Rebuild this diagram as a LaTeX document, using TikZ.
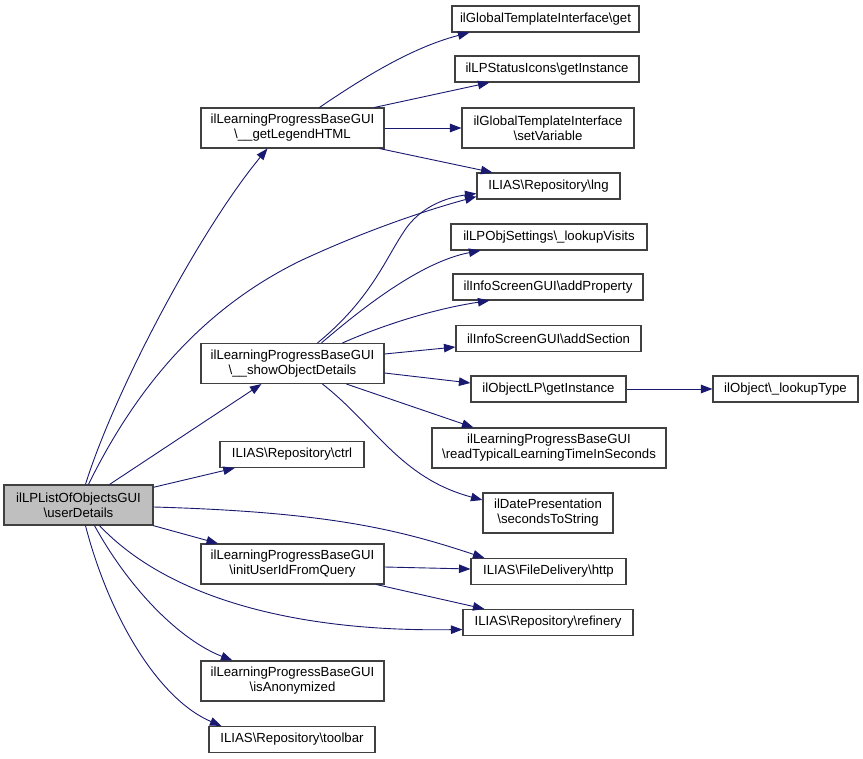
\documentclass[tikz,border=0pt]{standalone}
\usepackage{fontspec}
\setmainfont{Liberation Sans}
\usetikzlibrary{arrows.meta}
\definecolor{edgeblue}{HTML}{191970}
\definecolor{boxline}{HTML}{404040}
\definecolor{mainfill}{HTML}{BFBFBF}
\begin{document}
\begin{tikzpicture}[x=1pt,y=-1pt,
 fn/.style={draw=boxline, fill=white, line width=1.1pt, inner sep=0pt, align=center, font=\fontsize{13.2}{15}\selectfont},
 one/.style={fn, minimum height=26pt},
 two/.style={fn, minimum height=40pt},
 call/.style={draw=edgeblue, line width=0.9pt, -{Triangle[length=11.5pt,width=8.5pt]}}
]
\useasboundingbox (0,0) rectangle (863,759);
% nodes
\node[two, fill=mainfill, minimum width=149pt] (main) at (78.5,505) {ilLPListOfObjectsGUI\\\textbackslash userDetails};
\node[two, minimum width=183pt] (legend) at (292.5,128) {ilLearningProgressBaseGUI\\\textbackslash\_\_getLegendHTML};
\node[two, minimum width=183pt] (show) at (292.5,363.5) {ilLearningProgressBaseGUI\\\textbackslash\_\_showObjectDetails};
\node[one, minimum width=144pt] (ctrl) at (292,454.5) {ILIAS\textbackslash Repository\textbackslash ctrl};
\node[two, minimum width=183pt] (init) at (292.5,564) {ilLearningProgressBaseGUI\\\textbackslash initUserIdFromQuery};
\node[two, minimum width=183pt] (anon) at (292.5,681) {ilLearningProgressBaseGUI\\\textbackslash isAnonymized};
\node[one, minimum width=166pt] (toolbar) at (292,739.5) {ILIAS\textbackslash Repository\textbackslash toolbar};
\node[one, minimum width=187pt] (get) at (545.5,19) {ilGlobalTemplateInterface\textbackslash get};
\node[one, minimum width=184pt] (status) at (547,69) {ilLPStatusIcons\textbackslash getInstance};
\node[two, minimum width=172pt] (setvar) at (548,128) {ilGlobalTemplateInterface\\\textbackslash setVariable};
\node[one, minimum width=143pt] (lng) at (548.5,186) {ILIAS\textbackslash Repository\textbackslash lng};
\node[one, minimum width=196pt] (visits) at (549,237) {ilLPObjSettings\textbackslash\_lookupVisits};
\node[one, minimum width=190pt] (prop) at (548,287) {ilInfoScreenGUI\textbackslash addProperty};
\node[one, minimum width=185pt] (sect) at (548.5,338.5) {ilInfoScreenGUI\textbackslash addSection};
\node[one, minimum width=155pt] (olp) at (548.5,389) {ilObjectLP\textbackslash getInstance};
\node[two, minimum width=234pt] (typical) at (549,448) {ilLearningProgressBaseGUI\\\textbackslash readTypicalLearningTimeInSeconds};
\node[two, minimum width=130pt] (secs) at (548,513) {ilDatePresentation\\\textbackslash secondsToString};
\node[one, minimum width=155pt] (http) at (548.5,571.5) {ILIAS\textbackslash FileDelivery\textbackslash http};
\node[one, minimum width=170pt] (refinery) at (548,622.5) {ILIAS\textbackslash Repository\textbackslash refinery};
\node[one, minimum width=145pt] (ltype) at (785.5,389) {ilObject\textbackslash\_lookupType};
% edges from main
\draw[call] ([xshift=82pt]main.north west) .. controls (115,390) and (200,230) .. ([xshift=67pt]legend.south west);
\draw[call] ([xshift=85pt]main.north west) .. controls (135,390) and (200,310) .. (300,261) .. controls (360,233) and (420,212) .. ([yshift=3pt]lng.south west);
\draw[call] (main) -- (show);
\draw[call] (main) -- (ctrl);
\draw[call] ([yshift=-2pt]main.east) .. controls (330,512) and (400,530) .. ([xshift=14pt]http.north west);
\draw[call] (main) -- (init);
\draw[call] ([xshift=96pt]main.south west) .. controls (170,600) and (300,632) .. ([yshift=-7pt]refinery.west);
\draw[call] ([xshift=91pt]main.south west) .. controls (130,590) and (180,640) .. ([xshift=32pt]anon.north west);
\draw[call] ([xshift=82pt]main.south west) .. controls (110,620) and (160,700) .. ([xshift=13pt]toolbar.north west);
% edges from legend
\draw[call] ([xshift=119pt]legend.north west) .. controls (360,80) and (410,48) .. ([xshift=18pt]get.south west);
\draw[call] ([xshift=174pt]legend.north west) -- ([xshift=35pt]status.south west);
\draw[call] (legend) -- (setvar);
\draw[call] ([xshift=179pt]legend.south west) -- ([xshift=16pt]lng.north west);
% edges from show
\draw[call] ([xshift=117pt]show.north west) .. controls (370,300) and (385,260) .. (403,233) .. controls (420,205) and (450,197) .. ([yshift=6pt]lng.south west);
\draw[call] ([xshift=121pt]show.north west) .. controls (360,310) and (420,262) .. ([xshift=30pt]visits.south west);
\draw[call] ([xshift=142pt]show.north west) .. controls (390,322) and (440,308) .. ([xshift=37pt]prop.south west);
\draw[call] ([yshift=9.5pt]show.east) -- ([yshift=-8.5pt]sect.west);
\draw[call] ([yshift=-9.5pt]show.east) -- ([yshift=6pt]olp.west);
\draw[call] ([xshift=146pt]show.south west) -- ([xshift=42pt]typical.north west);
\draw[call] ([xshift=122pt]show.south west) .. controls (375,425) and (400,478) .. ([yshift=13pt]secs.west);
\draw[call] (olp) -- (ltype);
% edges from init
\draw[call] ([yshift=-3pt]init.east) -- ([yshift=2.5pt]http.west);
\draw[call] ([xshift=176pt]init.south west) -- ([xshift=22pt]refinery.north west);
\end{tikzpicture}
\end{document}
